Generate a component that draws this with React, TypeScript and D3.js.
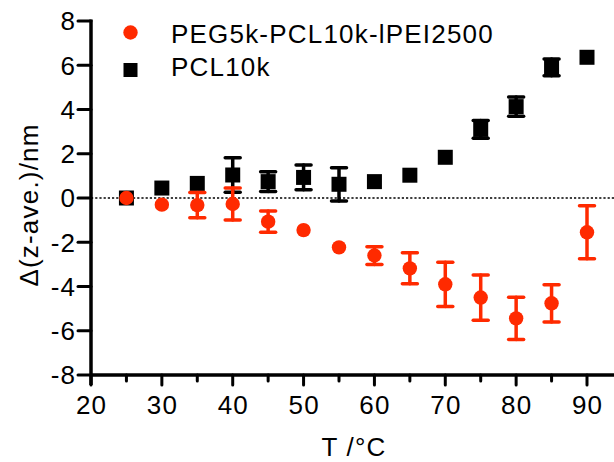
import React from "react";
import * as d3 from "d3";

const temps = [25, 30, 35, 40, 45, 50, 55, 60, 65, 70, 75, 80, 85, 90];
const pegMean = [0, -0.3, -0.32, -0.27, -1.07, -1.45, -2.23, -2.6, -3.18, -3.9, -4.5, -5.44, -4.76, -1.55];
const pegErr = [0, 0, 0.57, 0.72, 0.48, 0, 0, 0.4, 0.7, 1.0, 1.02, 0.95, 0.84, 1.2];
const pclMean = [0, 0.45, 0.66, 1.04, 0.74, 0.93, 0.62, 0.74, 1.03, 1.84, 3.1, 4.13, 5.9, 6.36];
const pclErr = [0, 0, 0, 0.78, 0.45, 0.56, 0.75, 0, 0, 0, 0.4, 0.43, 0.38, 0];
const xMajor = [20, 30, 40, 50, 60, 70, 80, 90];
const xMinor = [25, 35, 45, 55, 65, 75, 85, 95];
const yTicks = [8, 6, 4, 2, 0, -2, -4, -6, -8];
const seriesNames = ["PEG5k-PCL10k-lPEI2500", "PCL10k"];

const W = 614;
const H = 462;
const RED = "#ff2a00";
const FONT = "'Liberation Sans', Arial, sans-serif";

export default function App() {
  const x = d3.scaleLinear().domain([20, 90]).range([91, 587]);
  const y = d3.scaleLinear().domain([-8, 8]).range([375, 21]);
  const xEnd = x(95);
  const axisW = 3.5;
  const ls = 1.2;
  const fs = 26;

  const errBars = (means: number[], errs: number[], color: string) =>
    temps.map((t, i) => {
      if (!errs[i]) return null;
      const cx = x(t);
      const y1 = y(means[i] + errs[i]);
      const y2 = y(means[i] - errs[i]);
      return (
        <g key={"e" + i} stroke={color} strokeWidth={3.5} strokeLinecap="round">
          <line x1={cx} x2={cx} y1={y1} y2={y2} />
          <line x1={cx - 7.5} x2={cx + 7.5} y1={y1} y2={y1} />
          <line x1={cx - 7.5} x2={cx + 7.5} y1={y2} y2={y2} />
        </g>
      );
    });

  return (
    <svg
      width={W}
      height={H}
      style={{ position: "absolute", left: 0, top: 0, background: "#fff" }}
      fontFamily={FONT}
    >
      <rect x={0} y={0} width={W} height={H} fill="#fff" />
      {/* zero dotted line */}
      <line x1={x(20)} x2={xEnd} y1={y(0)} y2={y(0)} stroke="#000" strokeWidth={1.5} strokeDasharray="2.2,2" />

      {/* y axis */}
      <line x1={x(20)} x2={x(20)} y1={y(8) - 1.5} y2={y(-8) + 10} stroke="#000" strokeWidth={axisW} />
      {yTicks.map((v) => (
        <g key={"yt" + v}>
          <line x1={x(20) - 13} x2={x(20)} y1={y(v)} y2={y(v)} stroke="#000" strokeWidth={3} strokeLinecap="round" />
          <text x={75 + ls} y={y(v)} dy="0.36em" textAnchor="end" fontSize={fs} letterSpacing={ls}>
            {v}
          </text>
        </g>
      ))}
      {/* x axis */}
      <line x1={x(20)} x2={xEnd} y1={y(-8)} y2={y(-8)} stroke="#000" strokeWidth={axisW} />
      {xMajor.map((v) => (
        <g key={"xt" + v}>
          <line x1={x(v)} x2={x(v)} y1={y(-8)} y2={y(-8) + 10} stroke="#000" strokeWidth={3} strokeLinecap="round" />
          <text x={x(v) + ls / 2} y={414} textAnchor="middle" fontSize={fs} letterSpacing={ls}>
            {v}
          </text>
        </g>
      ))}
      {xMinor.map((v) => (
        <line key={"xm" + v} x1={x(v)} x2={x(v)} y1={y(-8)} y2={y(-8) + 6} stroke="#000" strokeWidth={3} strokeLinecap="round" />
      ))}

      {/* axis labels */}
      <text x={354} y={456} textAnchor="middle" fontSize={fs} letterSpacing={ls}>
        T /°C
      </text>
      <text
        transform={`translate(38,205) rotate(-90)`}
        textAnchor="middle"
        fontSize={fs}
        letterSpacing={ls}
      >
        Δ(z-ave.)/nm
      </text>

      {/* PCL10k series */}
      {errBars(pclMean, pclErr, "#000")}
      {temps.map((t, i) => (
        <rect key={"s" + i} x={x(t) - 7.5} y={y(pclMean[i]) - 7.5} width={15} height={15} fill="#000" />
      ))}

      {/* PEG series */}
      {errBars(pegMean, pegErr, RED)}
      {temps.map((t, i) => (
        <circle key={"c" + i} cx={x(t)} cy={y(pegMean[i])} r={7.2} fill={RED} />
      ))}

      {/* legend */}
      <circle cx={130.5} cy={32.5} r={7.2} fill={RED} />
      <text x={171} y={43} fontSize={fs} letterSpacing={ls}>
        {seriesNames[0]}
      </text>
      <rect x={123.5} y={63} width={14} height={14} fill="#000" />
      <text x={171} y={76} fontSize={fs} letterSpacing={ls}>
        {seriesNames[1]}
      </text>
    </svg>
  );
}
